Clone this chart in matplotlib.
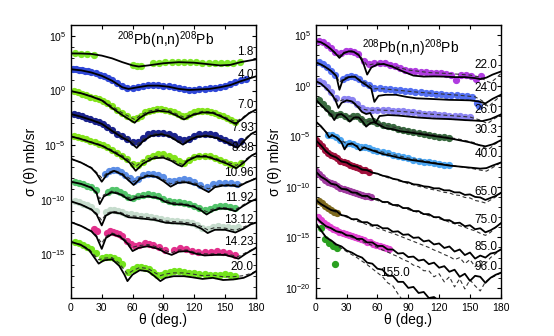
import matplotlib
matplotlib.use("Agg")
import matplotlib.pyplot as plt
import numpy as np

plt.rcParams['font.family'] = ['Liberation Sans', 'DejaVu Sans']
plt.rcParams['mathtext.fontset'] = 'custom'
plt.rcParams['mathtext.rm'] = 'Liberation Sans'
plt.rcParams['mathtext.it'] = 'Liberation Sans:italic'

# ---- left panel (log10 of cross section) ----
th_1p8 = [0, 10, 20, 30, 40, 50, 60, 66, 75, 90, 105, 120, 135, 145, 155, 165, 180]
s_1p8 = [3.4, 3.39, 3.35, 3.2, 2.95, 2.6, 2.3, 2.2, 2.3, 2.5, 2.6, 2.55, 2.4, 2.3, 2.35, 2.6, 2.85]
dth_1p8 = [4, 10, 16, 22, 60, 64, 68, 80, 86, 92, 98, 104, 110, 116, 122, 128, 134, 140, 146, 152, 158, 164]
dy_1p8 = [3.4, 3.38, 3.35, 3.3, 2.35, 2.25, 2.25, 2.5, 2.55, 2.6, 2.65, 2.65, 2.65, 2.6, 2.6, 2.55, 2.55, 2.5, 2.5, 2.55, 2.55, 2.6]

th_4p0 = [0, 10, 20, 30, 40, 50, 56, 65, 75, 85, 95, 105, 115, 125, 135, 145, 155, 165, 180]
s_4p0 = [1.95, 1.85, 1.65, 1.35, 0.9, 0.3, 0.15, 0.3, 0.45, 0.45, 0.35, 0.15, 0.05, 0.1, 0.15, 0.3, 0.5, 0.85, 1.3]
dth_4p0 = [2, 5, 8, 11, 14, 17, 20, 24, 28, 32, 36, 40, 45, 50, 55, 60, 65, 70, 75, 80, 85, 90, 95, 100, 105, 110, 115, 120, 125, 130, 135, 140, 145, 150, 155, 160, 165, 170]
dy_4p0 = [1.97, 1.95, 1.92, 1.88, 1.83, 1.77, 1.7, 1.6, 1.45, 1.3, 1.12, 0.95, 0.7, 0.4, 0.2, 0.22, 0.32, 0.42, 0.5, 0.52, 0.5, 0.45, 0.38, 0.3, 0.2, 0.12, 0.08, 0.08, 0.1, 0.15, 0.2, 0.25, 0.35, 0.45, 0.6, 0.75, 0.95, 1.1]

th_7p0 = [0, 10, 20, 30, 40, 50, 56, 62, 67, 75, 85, 95, 103, 110, 118, 128, 138, 148, 155, 160, 166, 173, 180]
s_7p0 = [-0.05, -0.25, -0.55, -0.9, -1.6, -2.25, -2.6, -2.95, -2.5, -2.05, -1.85, -1.95, -2.3, -2.65, -2.25, -2.0, -2.05, -2.45, -2.8, -3.05, -2.65, -2.1, -1.75]
c_7p0 = [-0.05, -0.25, -0.5, -0.85, -1.45, -2.05, -2.35, -2.65, -2.3, -1.9, -1.7, -1.8, -2.15, -2.45, -2.15, -1.9, -1.95, -2.35, -2.65, -2.85, -2.55, -2.05, -1.75]
dth_7p0 = [3, 7, 11, 15, 19, 23, 27, 31, 35, 40, 45, 50, 55, 60, 64, 68, 72, 76, 80, 84, 88, 92, 96, 100, 104, 108, 112, 116, 120, 124, 128, 132, 136, 140, 144, 148, 152, 156, 160]
dy_7p0 = [-0.05, -0.15, -0.3, -0.4, -0.55, -0.65, -0.8, -0.95, -1.15, -1.45, -1.75, -2.05, -2.3, -2.6, -2.55, -2.3, -2.0, -1.85, -1.75, -1.7, -1.7, -1.75, -1.85, -2.0, -2.15, -2.35, -2.3, -2.15, -2.0, -1.9, -1.85, -1.9, -1.95, -2.05, -2.2, -2.35, -2.55, -2.7, -2.85]

th_7p93 = [0, 10, 20, 30, 40, 50, 57, 64, 70, 78, 88, 96, 103, 109, 115, 122, 132, 142, 152, 162, 168, 175, 180]
s_7p93 = [-2.15, -2.4, -2.7, -3.05, -3.7, -4.3, -4.65, -5.25, -4.65, -4.15, -4.0, -4.2, -4.6, -4.95, -4.55, -4.25, -4.15, -4.35, -4.75, -5.25, -4.65, -4.0, -3.75]
c_7p93 = [-2.15, -2.4, -2.65, -3.0, -3.6, -4.15, -4.45, -4.95, -4.45, -4.0, -3.9, -4.1, -4.45, -4.75, -4.4, -4.15, -4.05, -4.25, -4.6, -4.95, -4.5, -3.95, -3.75]
dth_7p93 = [3, 7, 11, 15, 19, 23, 27, 31, 35, 40, 45, 50, 55, 60, 65, 70, 75, 80, 85, 90, 95, 100, 105, 110, 115, 120, 125, 130, 135, 140, 145, 150, 155, 160, 165]
dy_7p93 = [-2.15, -2.25, -2.35, -2.5, -2.6, -2.75, -2.9, -3.05, -3.3, -3.6, -3.95, -4.2, -4.45, -4.7, -4.75, -4.3, -4.0, -3.9, -3.85, -3.85, -3.95, -4.15, -4.4, -4.55, -4.4, -4.15, -4.0, -3.95, -4.0, -4.1, -4.3, -4.5, -4.7, -4.85, -4.6]

th_8p98 = [0, 10, 20, 30, 40, 50, 57, 63, 70, 80, 90, 98, 104, 108, 114, 122, 132, 142, 152, 161, 168, 175, 180]
s_8p98 = [-4.2, -4.45, -4.75, -5.05, -5.55, -6.1, -6.6, -7.35, -6.7, -6.2, -6.15, -6.45, -6.8, -6.95, -6.4, -6.05, -6.05, -6.35, -6.7, -7.1, -6.6, -6.0, -5.75]
c_8p98 = [-4.2, -4.4, -4.7, -5.0, -5.45, -5.95, -6.4, -6.95, -6.45, -6.05, -6.0, -6.3, -6.6, -6.75, -6.3, -5.95, -5.95, -6.25, -6.55, -6.85, -6.45, -5.95, -5.75]
dth_8p98 = [3, 7, 11, 15, 19, 23, 27, 31, 35, 40, 45, 50, 55, 60, 65, 70, 75, 80, 85, 90, 95, 100, 105, 110, 115, 120, 125, 130, 135, 140, 145, 150, 155, 160, 165]
dy_8p98 = [-4.15, -4.25, -4.35, -4.45, -4.6, -4.7, -4.85, -5.0, -5.2, -5.45, -5.75, -6.0, -6.3, -6.7, -6.85, -6.5, -6.15, -5.95, -5.85, -5.85, -5.95, -6.15, -6.45, -6.6, -6.35, -6.05, -5.95, -5.95, -6.0, -6.15, -6.35, -6.55, -6.7, -6.85, -6.6]

th_10p96 = [0, 10, 20, 25, 30, 35, 42, 50, 57, 61, 67, 75, 83, 90, 97, 104, 112, 122, 128, 134, 140, 148, 157, 163, 170, 180]
s_10p96 = [-6.25, -6.6, -7.1, -7.6, -8.35, -7.7, -7.35, -7.7, -8.3, -8.65, -8.1, -7.8, -7.9, -8.3, -8.8, -8.45, -8.4, -8.65, -9.0, -9.3, -8.85, -8.7, -8.7, -8.8, -8.45, -8.05]
c_10p96 = [-6.25, -6.6, -7.05, -7.5, -8.0, -7.55, -7.3, -7.6, -8.05, -8.35, -7.95, -7.7, -7.8, -8.15, -8.55, -8.3, -8.3, -8.5, -8.8, -9.0, -8.7, -8.6, -8.6, -8.65, -8.4, -8.05]
dth_10p96 = [33, 37, 41, 45, 49, 53, 57, 61, 65, 70, 75, 80, 85, 90, 95, 100, 105, 110, 115, 120, 126, 132, 138, 144, 150, 156, 162]
dy_10p96 = [-7.6, -7.35, -7.25, -7.3, -7.45, -7.75, -8.05, -8.3, -8.1, -7.75, -7.6, -7.6, -7.7, -7.95, -8.3, -8.3, -8.15, -8.1, -8.2, -8.4, -8.65, -8.85, -8.6, -8.45, -8.45, -8.5, -8.55]

th_11p92 = [0, 10, 20, 25, 28, 32, 40, 48, 55, 58, 65, 75, 85, 92, 100, 110, 120, 127, 132, 138, 145, 153, 160, 167, 175, 180]
s_11p92 = [-8.35, -8.55, -8.9, -9.4, -10.4, -9.7, -9.3, -9.5, -9.9, -10.05, -9.8, -9.7, -9.85, -10.2, -10.4, -10.45, -10.65, -11.0, -11.35, -11.0, -10.8, -10.85, -11.05, -10.6, -10.15, -9.95]
c_11p92 = [-8.35, -8.55, -8.85, -9.3, -9.9, -9.55, -9.2, -9.4, -9.75, -9.85, -9.65, -9.6, -9.75, -10.05, -10.25, -10.35, -10.55, -10.85, -11.1, -10.85, -10.7, -10.75, -10.9, -10.5, -10.1, -9.95]
dth_11p92 = [4, 8, 12, 16, 20, 24, 36, 40, 44, 48, 52, 56, 60, 65, 70, 75, 80, 85, 90, 95, 100, 105, 110, 115, 120, 125, 130, 135, 140, 145, 150, 155, 160]
dy_11p92 = [-8.35, -8.45, -8.55, -8.7, -8.85, -9.1, -9.3, -9.15, -9.15, -9.3, -9.5, -9.75, -9.8, -9.65, -9.55, -9.5, -9.55, -9.7, -9.9, -10.1, -10.2, -10.25, -10.3, -10.4, -10.55, -10.75, -10.95, -10.85, -10.7, -10.6, -10.6, -10.7, -10.8]

th_13p12 = [0, 10, 20, 25, 30, 34, 40, 48, 56, 62, 72, 82, 92, 100, 110, 120, 127, 133, 140, 150, 160, 168, 175, 180]
s_13p12 = [-10.15, -10.45, -10.9, -11.35, -12.35, -11.45, -11.15, -11.25, -11.6, -11.65, -11.75, -11.85, -12.1, -12.15, -12.2, -12.35, -12.65, -13.05, -12.75, -12.75, -13.0, -12.65, -12.25, -12.1]
c_13p12 = [-10.15, -10.45, -10.85, -11.25, -11.9, -11.3, -11.05, -11.15, -11.45, -11.5, -11.6, -11.7, -11.95, -12.0, -12.05, -12.2, -12.45, -12.75, -12.55, -12.6, -12.8, -12.5, -12.2, -12.1]
dth_13p12 = [4, 8, 12, 16, 20, 24, 34, 38, 42, 46, 50, 54, 58, 63, 68, 73, 78, 83, 88, 93, 98, 103, 108, 113, 118, 123, 128, 133, 138, 143, 148, 153, 158, 163]
dy_13p12 = [-10.1, -10.2, -10.35, -10.5, -10.7, -11.0, -11.1, -10.95, -10.95, -11.0, -11.15, -11.3, -11.35, -11.4, -11.45, -11.5, -11.55, -11.65, -11.75, -11.85, -11.9, -11.95, -12.0, -12.05, -12.15, -12.35, -12.55, -12.65, -12.5, -12.4, -12.45, -12.5, -12.6, -12.5]

th_14p23 = [0, 10, 20, 25, 30, 34, 40, 48, 55, 60, 66, 75, 85, 92, 98, 105, 113, 122, 130, 140, 150, 158, 163, 170, 180]
s_14p23 = [-12.05, -12.4, -12.9, -13.4, -14.5, -13.5, -13.15, -13.4, -14.0, -14.7, -14.4, -14.25, -14.5, -14.85, -15.05, -14.75, -14.7, -14.95, -15.1, -15.05, -15.05, -15.25, -15.4, -14.95, -14.4]
c_14p23 = [-12.05, -12.4, -12.85, -13.3, -14.0, -13.35, -13.05, -13.3, -13.85, -14.35, -14.2, -14.1, -14.35, -14.65, -14.85, -14.6, -14.6, -14.85, -14.95, -14.95, -14.95, -15.1, -15.2, -14.85, -14.4]
dth_14p23 = [22, 25, 35, 38, 41, 44, 47, 50, 55, 58, 62, 66, 72, 76, 80, 86, 92, 100, 106, 112, 118, 124, 130, 136, 142, 148, 154, 160]
dy_14p23 = [-12.7, -12.9, -13.0, -12.9, -12.95, -13.0, -13.1, -13.3, -13.75, -14.05, -14.2, -14.1, -14.0, -14.05, -14.15, -14.35, -14.6, -14.6, -14.45, -14.5, -14.65, -14.75, -14.8, -14.75, -14.7, -14.8, -14.9, -15.1]

th_20p0 = [0, 10, 18, 24, 27, 32, 40, 47, 52, 55, 60, 67, 75, 82, 87, 92, 100, 110, 118, 128, 138, 148, 158, 168, 175, 180]
s_20p0 = [-13.85, -14.15, -14.65, -15.45, -15.85, -15.55, -15.45, -16.05, -16.85, -17.45, -16.85, -16.45, -16.55, -17.05, -17.45, -17.15, -17.0, -17.0, -17.1, -17.25, -17.15, -17.35, -17.3, -17.15, -16.85, -16.55]
c_20p0 = [-13.85, -14.1, -14.55, -15.2, -15.5, -15.35, -15.3, -15.8, -16.45, -16.8, -16.5, -16.2, -16.3, -16.7, -16.95, -16.8, -16.7, -16.7, -16.8, -16.95, -16.9, -17.05, -17.05, -16.95, -16.75, -16.55]
dth_20p0 = [4, 8, 12, 16, 20, 24, 30, 34, 38, 42, 46, 50, 56, 60, 64, 68, 72, 76, 80, 84, 88, 92, 96, 100, 105, 110, 115, 120, 125, 130, 135, 140, 145, 150, 155, 160]
dy_20p0 = [-13.9, -14.0, -14.15, -14.3, -14.55, -14.85, -15.3, -15.25, -15.2, -15.3, -15.55, -15.9, -16.6, -16.3, -16.2, -16.15, -16.25, -16.35, -16.6, -16.85, -16.9, -16.7, -16.6, -16.55, -16.55, -16.6, -16.7, -16.75, -16.8, -16.8, -16.85, -16.9, -16.85, -16.8, -16.9, -17.0]

# ---- right panel ----
th_22 = [0, 5, 10, 15, 20, 23, 27, 32, 37, 42, 46, 50, 54, 60, 66, 74, 85, 95, 105, 115, 125, 135, 145, 155, 160, 166, 172, 180]
s_22 = [4.4, 4.3, 4.0, 3.6, 3.1, 2.75, 3.2, 3.4, 3.35, 3.0, 2.3, 1.1, 1.8, 2.1, 2.15, 1.9, 1.4, 1.0, 0.9, 0.92, 0.9, 0.85, 0.85, 0.75, 0.65, 0.8, 1.1, 1.4]
cth_22 = [0, 10, 20, 23, 27, 35, 42, 50, 60, 75, 90, 110, 130, 150, 160, 166, 170, 175, 180]
c_22 = [4.45, 4.05, 3.2, 2.95, 3.3, 3.45, 3.1, 2.0, 2.25, 1.95, 1.55, 1.3, 1.2, 1.05, 0.85, 0.45, 0.3, 0.7, 1.2]
dth_22 = [3, 7, 11, 15, 19, 25, 29, 33, 37, 41, 47, 52, 57, 62, 67, 72, 77, 82, 87, 92, 97, 102, 107, 112, 117, 122, 127, 132, 136, 141, 146, 151, 156, 161]
dy_22 = [4.45, 4.3, 4.05, 3.7, 3.3, 3.2, 3.4, 3.45, 3.35, 3.1, 2.4, 2.1, 2.2, 2.25, 2.2, 2.05, 1.9, 1.75, 1.6, 1.5, 1.45, 1.4, 1.35, 1.3, 1.3, 1.25, 1.2, 1.1, 0.55, 1.1, 1.05, 1.0, 0.7, 0.95]

th_24 = [0, 5, 10, 15, 20, 23, 26, 32, 38, 44, 50, 54, 57, 61, 68, 78, 88, 98, 110, 120, 130, 140, 150, 158, 165, 172, 180]
s_24 = [2.3, 2.1, 1.8, 1.45, 0.95, -0.4, 0.5, 0.85, 0.9, 0.4, 0.0, -0.3, -1.6, -1.0, -0.9, -0.9, -1.1, -1.25, -1.3, -1.35, -1.4, -1.42, -1.45, -1.55, -1.75, -1.3, -0.9]
cth_24 = [0, 10, 20, 23, 27, 35, 45, 52, 57, 65, 80, 100, 120, 140, 155, 162, 168, 174, 180]
c_24 = [2.35, 1.85, 1.05, 0.3, 0.75, 0.95, 0.5, 0.1, -0.3, -0.3, -0.45, -0.65, -0.8, -0.95, -1.1, -1.5, -2.1, -1.5, -1.0]
dth_24 = [3, 7, 11, 15, 19, 26, 30, 34, 38, 42, 47, 52, 57, 62, 67, 72, 77, 82, 87, 92, 97, 102, 107, 112, 117, 122, 127, 132, 137, 142, 147, 152, 157, 159]
dy_24 = [2.3, 2.1, 1.85, 1.5, 1.1, 0.7, 0.85, 0.95, 0.9, 0.7, 0.3, 0.05, -0.2, -0.25, -0.3, -0.35, -0.4, -0.45, -0.5, -0.55, -0.6, -0.65, -0.7, -0.75, -0.8, -0.85, -0.9, -0.9, -0.95, -1.0, -1.0, -1.1, -1.75, -2.05]

th_26 = [0, 5, 10, 15, 19, 22, 25, 30, 35, 40, 45, 49, 53, 58, 62, 70, 80, 90, 100, 115, 130, 145, 155, 162, 170, 180]
s_26 = [0.45, 0.2, -0.25, -0.8, -1.4, -2.2, -1.7, -1.45, -1.55, -2.0, -2.6, -2.8, -2.7, -3.7, -3.0, -2.9, -2.95, -3.05, -3.15, -3.25, -3.3, -3.4, -3.45, -3.5, -3.3, -2.85]
cth_26 = [0, 10, 19, 22, 26, 35, 45, 52, 60, 70, 90, 110, 130, 150, 160, 167, 173, 180]
c_26 = [0.5, -0.2, -1.2, -1.6, -1.4, -1.5, -2.3, -2.45, -2.4, -2.45, -2.6, -2.8, -2.95, -3.1, -3.4, -3.75, -3.3, -2.9]
dth_26 = [3, 7, 11, 15, 20, 27, 31, 35, 40, 45, 50, 55, 60, 65, 70, 75, 80, 85, 90, 95, 100, 105, 110, 115, 120, 125, 130, 135, 140, 145, 150]
dy_26 = [0.45, 0.25, -0.15, -0.6, -1.2, -1.3, -1.35, -1.45, -1.8, -2.25, -2.4, -2.4, -2.4, -2.45, -2.45, -2.5, -2.5, -2.55, -2.6, -2.65, -2.7, -2.75, -2.8, -2.8, -2.85, -2.9, -2.95, -3.0, -3.0, -3.05, -3.1]

th_30 = [0, 5, 10, 15, 18, 21, 25, 30, 33, 37, 42, 46, 49, 53, 57, 62, 68, 75, 82, 90, 100, 110, 120, 130, 140, 150, 158, 165, 172, 180]
s_30 = [-1.4, -1.9, -2.4, -2.9, -3.4, -2.9, -2.8, -3.2, -3.55, -3.15, -3.15, -3.6, -4.05, -3.7, -3.6, -3.9, -4.2, -4.3, -4.5, -4.6, -4.75, -4.9, -5.05, -5.2, -5.4, -5.6, -5.85, -6.0, -5.8, -5.4]
cth_30 = [0, 10, 18, 22, 30, 37, 44, 49, 55, 65, 80, 100, 120, 140, 155, 163, 168, 174, 180]
c_30 = [-1.4, -2.35, -3.0, -2.75, -3.05, -3.0, -3.15, -3.55, -3.45, -3.85, -4.2, -4.6, -4.95, -5.3, -5.65, -6.1, -6.3, -5.8, -5.4]
dth_30 = [3, 7, 11, 15, 20, 24, 28, 32, 36, 40, 44, 48, 52, 56, 60, 65, 70, 75, 80, 85, 90, 95, 100, 105, 110, 115, 120, 125, 130]
dy_30 = [-1.45, -1.8, -2.25, -2.7, -2.85, -2.75, -2.95, -3.2, -3.0, -3.0, -3.25, -3.55, -3.45, -3.45, -3.65, -3.85, -4.0, -4.1, -4.25, -4.35, -4.45, -4.55, -4.65, -4.75, -4.85, -4.95, -5.05, -5.1, -5.2]

th_40 = [0, 5, 10, 13, 16, 20, 25, 28, 31, 35, 40, 43, 47, 52, 58, 65, 72, 80, 90, 100, 110, 120, 130, 140, 150, 160, 166, 172, 180]
s_40 = [-3.55, -4.0, -4.6, -5.1, -4.9, -5.1, -5.6, -6.3, -5.8, -5.7, -6.0, -6.4, -6.1, -6.3, -6.5, -6.75, -6.9, -7.1, -7.3, -7.45, -7.6, -7.75, -7.9, -8.0, -8.1, -8.2, -8.15, -7.9, -7.6]
cth_40 = [0, 10, 16, 22, 30, 40, 50, 60, 75, 90, 110, 130, 150, 160, 166, 172, 180]
c_40 = [-3.55, -4.6, -4.85, -5.2, -5.75, -5.95, -6.2, -6.45, -6.8, -7.15, -7.5, -7.85, -8.15, -8.35, -8.45, -8.1, -7.6]
dth_40 = [12, 16, 20, 24, 28, 32, 36, 40, 44, 48, 52, 56, 60, 65, 70, 75, 80, 85, 90, 95, 100, 105, 110, 115, 120, 125, 130]
dy_40 = [-4.9, -4.85, -5.05, -5.4, -5.8, -5.7, -5.75, -5.95, -6.1, -6.05, -6.2, -6.35, -6.45, -6.6, -6.7, -6.85, -7.0, -7.1, -7.2, -7.3, -7.4, -7.5, -7.55, -7.65, -7.7, -7.8, -7.85]

th_5deg = [0, 5, 10, 15, 20, 25, 30, 35, 40, 45, 50, 55, 60, 65, 70, 75, 80, 85, 90, 95, 100, 105, 110, 115, 120, 125, 130, 135, 140, 145, 150, 155, 160, 165, 170, 175, 180]
s_65 = [-5.4, -5.9, -6.5, -6.9, -7.1, -7.5, -7.6, -7.9, -8.0, -8.3, -8.35, -8.6, -8.7, -8.9, -9.0, -9.2, -9.3, -9.5, -9.55, -9.75, -9.8, -9.95, -10.0, -10.15, -10.15, -10.35, -10.35, -10.55, -10.55, -10.8, -10.75, -11.0, -11.05, -11.3, -11.1, -10.9, -10.6]
c_65 = [-5.4, -5.9, -6.45, -6.85, -7.15, -7.45, -7.65, -7.85, -8.05, -8.25, -8.4, -8.55, -8.75, -8.9, -9.1, -9.2, -9.4, -9.5, -9.7, -9.8, -9.95, -10.05, -10.2, -10.3, -10.4, -10.55, -10.6, -10.8, -10.85, -11.05, -11.1, -11.35, -11.45, -11.6, -11.3, -11.0, -10.6]
dth_65 = [0, 3, 6, 9, 12, 15, 18, 21, 24, 27, 30, 33, 36, 39, 42, 45, 48, 52]
dy_65 = [-5.4, -5.7, -6.0, -6.4, -6.7, -6.9, -7.0, -7.2, -7.45, -7.55, -7.6, -7.8, -7.95, -8.0, -8.15, -8.3, -8.35, -8.5]

s_75 = [-8.5, -9.0, -9.3, -9.7, -9.8, -10.2, -10.25, -10.55, -10.6, -10.9, -10.9, -11.2, -11.2, -11.5, -11.5, -11.8, -11.8, -12.1, -12.1, -12.4, -12.4, -12.7, -12.7, -13.0, -13.0, -13.3, -13.3, -13.6, -13.55, -13.9, -13.8, -14.2, -14.1, -14.5, -14.3, -14.0, -13.6]
c_75 = [-8.5, -9.0, -9.35, -9.65, -9.9, -10.15, -10.35, -10.55, -10.75, -10.9, -11.05, -11.2, -11.35, -11.5, -11.65, -11.8, -11.95, -12.1, -12.25, -12.4, -12.55, -12.7, -12.85, -13.0, -13.15, -13.3, -13.5, -13.65, -13.85, -14.0, -14.2, -14.35, -14.6, -14.8, -14.5, -14.0, -13.6]
dth_75 = [0, 3, 6, 9, 12, 15, 18, 21, 24, 27, 30, 33, 36, 39, 42, 45, 48, 51, 54]
dy_75 = [-8.45, -8.7, -9.0, -9.3, -9.5, -9.65, -9.75, -9.95, -10.15, -10.25, -10.3, -10.45, -10.55, -10.6, -10.75, -10.85, -10.9, -10.95, -11.05]

s_85 = [-11.3, -11.7, -12.0, -12.3, -12.4, -12.8, -12.9, -13.2, -13.2, -13.5, -13.5, -13.8, -13.8, -14.1, -14.1, -14.45, -14.4, -14.75, -14.7, -15.05, -15.0, -15.4, -15.3, -15.7, -15.6, -16.05, -15.9, -16.4, -16.2, -16.75, -16.5, -17.1, -16.8, -17.0, -16.6, -16.5, -16.2]
c_85 = [-11.3, -11.7, -12.05, -12.3, -12.55, -12.8, -13.0, -13.2, -13.4, -13.55, -13.75, -13.9, -14.1, -14.25, -14.45, -14.6, -14.8, -15.0, -15.2, -15.4, -15.6, -15.8, -16.0, -16.25, -16.45, -16.7, -16.9, -17.2, -17.0, -17.6, -17.2, -17.9, -17.3, -17.6, -17.0, -16.6, -16.2]
dth_85 = [3, 6, 9, 12, 15, 18, 21]
dy_85 = [-11.4, -11.6, -11.85, -12.05, -12.3, -12.45, -12.6]

s_96 = [-13.0, -13.5, -13.9, -14.1, -14.4, -14.5, -14.8, -14.85, -15.15, -15.15, -15.5, -15.5, -15.85, -15.85, -16.2, -16.2, -16.6, -16.55, -16.95, -16.9, -17.3, -17.2, -17.65, -17.5, -18.0, -17.85, -18.4, -18.2, -18.9, -18.6, -19.3, -18.8, -18.9, -19.5, -19.0, -18.7, -18.5]
c_96 = [-13.0, -13.5, -13.9, -14.15, -14.4, -14.6, -14.8, -15.0, -15.2, -15.4, -15.6, -15.8, -16.0, -16.25, -16.45, -16.7, -16.9, -17.2, -17.4, -17.75, -17.9, -18.3, -18.3, -18.9, -18.6, -19.4, -18.9, -19.9, -19.1, -20.1, -19.2, -19.8, -20.3, -19.4, -19.0, -18.8, -18.5]
dth_96 = [2, 5, 8, 11, 14, 17, 20, 23, 26, 29, 32, 35, 38, 41, 44, 47, 50, 53, 56, 59, 62, 65, 68, 71]
dy_96 = [-13.0, -13.3, -13.6, -13.8, -14.0, -14.15, -14.3, -14.45, -14.55, -14.7, -14.8, -14.85, -15.0, -15.1, -15.15, -15.3, -15.45, -15.5, -15.65, -15.8, -15.85, -15.95, -16.1, -16.2]

th_155 = [0, 5, 10, 15, 20, 25, 30, 35, 40, 45, 50, 55, 60, 65, 70, 75, 80, 85, 90, 95, 100, 105, 110, 115, 120]
s_155 = [-13.6, -14.3, -15.0, -15.3, -15.7, -15.9, -16.3, -16.5, -16.8, -17.0, -17.5, -17.6, -18.1, -18.2, -18.8, -18.8, -19.4, -19.4, -20.0, -19.9, -20.5, -20.4, -21.0, -20.9, -21.3]
cth_155 = [0, 10, 20, 30, 40, 50, 60, 65, 70, 75, 80, 85]
c_155 = [-13.6, -15.0, -15.8, -16.4, -17.0, -17.7, -18.5, -18.9, -19.5, -19.8, -20.6, -21.3]
dth_155 = [5, 9, 13, 17, 21, 19]
dy_155 = [-14.1, -15.2, -15.6, -15.9, -16.1, -17.6]

left_labels = ['1.8', '4.0', '7.0', '7.93', '8.98', '10.96', '11.92', '13.12', '14.23', '20.0']
left_label_y = [3.53, 1.42, -1.33, -3.43, -5.26, -7.55, -9.84, -11.86, -13.87, -16.16]
right_labels = ['22.0', '24.0', '26.0', '30.3', '40.0', '65.0', '75.0', '85.0', '96.0']
right_label_y = [2.04, -0.23, -2.41, -4.39, -6.75, -10.52, -13.29, -15.96, -17.94]

left_cols = ['#7fe82a', '#3048d8', '#84e41c', '#1c248e', '#84e41c', '#5c8ee6', '#52c46a', '#c6dccd', '#e2308c', '#74e41c']
right_cols = ['#b03ce0', '#5470f2', '#8c84f2', '#3a6a40', '#4ca6f2', '#a0103c', '#a03ca0', '#7e6a1e', '#e242d2', '#2aa020']

left_sets = [
    (th_1p8, s_1p8, None, None, dth_1p8, dy_1p8),
    (th_4p0, s_4p0, None, None, dth_4p0, dy_4p0),
    (th_7p0, s_7p0, th_7p0, c_7p0, dth_7p0, dy_7p0),
    (th_7p93, s_7p93, th_7p93, c_7p93, dth_7p93, dy_7p93),
    (th_8p98, s_8p98, th_8p98, c_8p98, dth_8p98, dy_8p98),
    (th_10p96, s_10p96, th_10p96, c_10p96, dth_10p96, dy_10p96),
    (th_11p92, s_11p92, th_11p92, c_11p92, dth_11p92, dy_11p92),
    (th_13p12, s_13p12, th_13p12, c_13p12, dth_13p12, dy_13p12),
    (th_14p23, s_14p23, th_14p23, c_14p23, dth_14p23, dy_14p23),
    (th_20p0, s_20p0, th_20p0, c_20p0, dth_20p0, dy_20p0),
]
right_sets = [
    (th_22, s_22, cth_22, c_22, dth_22, dy_22),
    (th_24, s_24, cth_24, c_24, dth_24, dy_24),
    (th_26, s_26, cth_26, c_26, dth_26, dy_26),
    (th_30, s_30, cth_30, c_30, dth_30, dy_30),
    (th_40, s_40, cth_40, c_40, dth_40, dy_40),
    (th_5deg, s_65, th_5deg, c_65, dth_65, dy_65),
    (th_5deg, s_75, th_5deg, c_75, dth_75, dy_75),
    (th_5deg, s_85, th_5deg, c_85, dth_85, dy_85),
    (th_5deg, s_96, th_5deg, c_96, dth_96, dy_96),
    (th_155, s_155, cth_155, c_155, dth_155, dy_155),
]


def draw(ax, sets, cols):
    for (th, s, cth, c, dth, dy), col in zip(sets, cols):
        ax.plot(dth, 10.0 ** np.array(dy), 'o', ms=4.2, mfc=col, mec=col, zorder=2)
        if c is not None:
            ax.plot(cth, 10.0 ** np.array(c), color='#333333', lw=0.8,
                    dashes=(3.5, 2.5), zorder=3)
        ax.plot(th, 10.0 ** np.array(s), color='black', lw=1.3, zorder=4)


fig = plt.figure(figsize=(5.54, 3.36), dpi=100)
axL = fig.add_axes([0.128, 0.113, 0.334, 0.8125])
axR = fig.add_axes([0.570, 0.113, 0.334, 0.8125])

draw(axL, left_sets, left_cols)
draw(axR, right_sets, right_cols)

for ax in (axL, axR):
    ax.set_yscale('log')
    ax.set_xlim(0, 180)
    ax.set_xticks([0, 30, 60, 90, 120, 150, 180])
    ax.tick_params(direction='in', top=True, right=True, labelsize=7.5, length=3, width=0.8)
    ax.tick_params(which='minor', direction='in', right=True, length=2, width=0.6)
    ax.yaxis.set_minor_locator(matplotlib.ticker.LogLocator(base=10.0, subs=(1.0,), numticks=40))
    ax.yaxis.set_minor_formatter(matplotlib.ticker.NullFormatter())
    for sp in ax.spines.values():
        sp.set_linewidth(1.0)
    ax.set_xlabel(u'\u03b8 (deg.)', fontsize=10, labelpad=0)
    ax.set_ylabel(u'\u03c3 (\u03b8) mb/sr', fontsize=10, labelpad=2)

axL.set_ylim(1e-19, 1e6)
axL.set_yticks([1e5, 1e0, 1e-5, 1e-10, 1e-15])
axL.set_yticklabels([r'$10^{5}$', r'$10^{0}$', r'$10^{-5}$', r'$10^{-10}$', r'$10^{-15}$'])
axR.set_ylim(1e-21, 1e6)
axR.set_yticks([1e5, 1e0, 1e-5, 1e-10, 1e-15, 1e-20])
axR.set_yticklabels([r'$10^{5}$', r'$10^{0}$', r'$10^{-5}$', r'$10^{-10}$', r'$10^{-15}$', r'$10^{-20}$'])

for lab, ly in zip(left_labels, left_label_y):
    axL.text(178, 10.0 ** ly, lab, ha='right', va='center', fontsize=8.5)
for lab, ly in zip(right_labels, right_label_y):
    axR.text(177, 10.0 ** ly, lab, ha='right', va='center', fontsize=8.5)
axR.text(77, 10.0 ** -18.53, '155.0', ha='center', va='center', fontsize=8.5)

axL.text(0.51, 0.985, r'$^{208}$Pb(n,n)$^{208}$Pb', transform=axL.transAxes,
         ha='center', va='top', fontsize=10)
axR.text(0.51, 0.955, r'$^{208}$Pb(n,n)$^{208}$Pb', transform=axR.transAxes,
         ha='center', va='top', fontsize=10)

fig.savefig('out.png', dpi=100)
